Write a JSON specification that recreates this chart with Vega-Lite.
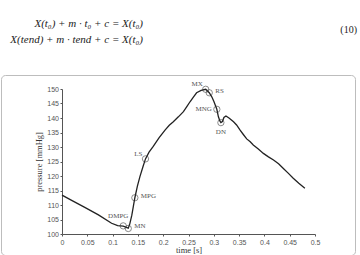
{
  "$schema": "https://vega.github.io/schema/vega-lite/v6.json",
  "autosize": {"type": "none"},
  "padding": {"left": 1, "top": 75, "right": 5, "bottom": 0},
  "width": 354,
  "height": 180,
  "config": {
    "view": {"stroke": "#bdbdbd", "strokeWidth": 1, "cornerRadius": 4},
    "axis": {
      "grid": false,
      "labelFont": "Liberation Sans",
      "labelFontSize": 7,
      "labelColor": "#555",
      "domainColor": "#555",
      "tickColor": "#555",
      "titleFont": "Liberation Serif",
      "titleFontSize": 8.5,
      "titleFontWeight": "normal",
      "titleColor": "#333"
    }
  },
  "datasets": {
    "curve": [
      {"t": 0.000, "p": 113.4}, {"t": 0.020, "p": 111.5}, {"t": 0.045, "p": 109.2},
      {"t": 0.072, "p": 106.6}, {"t": 0.098, "p": 103.7}, {"t": 0.110, "p": 102.9},
      {"t": 0.121, "p": 102.7}, {"t": 0.127, "p": 102.3}, {"t": 0.131, "p": 102.0},
      {"t": 0.134, "p": 103.5}, {"t": 0.138, "p": 106.5}, {"t": 0.141, "p": 109.5},
      {"t": 0.144, "p": 112.5}, {"t": 0.149, "p": 116.5}, {"t": 0.154, "p": 119.8},
      {"t": 0.160, "p": 123.2}, {"t": 0.165, "p": 125.9}, {"t": 0.172, "p": 128.2},
      {"t": 0.180, "p": 130.1}, {"t": 0.192, "p": 133.2}, {"t": 0.204, "p": 135.9},
      {"t": 0.212, "p": 137.5}, {"t": 0.220, "p": 138.7}, {"t": 0.230, "p": 140.4},
      {"t": 0.240, "p": 142.2}, {"t": 0.247, "p": 144.0}, {"t": 0.253, "p": 145.6},
      {"t": 0.260, "p": 147.3}, {"t": 0.266, "p": 148.7}, {"t": 0.275, "p": 149.5},
      {"t": 0.284, "p": 149.9}, {"t": 0.291, "p": 148.7}, {"t": 0.296, "p": 147.3},
      {"t": 0.300, "p": 145.8}, {"t": 0.306, "p": 143.0}, {"t": 0.309, "p": 140.5},
      {"t": 0.312, "p": 139.0}, {"t": 0.314, "p": 138.4}, {"t": 0.317, "p": 138.8},
      {"t": 0.320, "p": 140.2}, {"t": 0.324, "p": 140.7}, {"t": 0.330, "p": 140.0},
      {"t": 0.339, "p": 138.7}, {"t": 0.345, "p": 137.6}, {"t": 0.352, "p": 135.8},
      {"t": 0.358, "p": 134.4}, {"t": 0.365, "p": 132.8}, {"t": 0.372, "p": 131.8},
      {"t": 0.378, "p": 130.7}, {"t": 0.388, "p": 129.3}, {"t": 0.398, "p": 127.8},
      {"t": 0.408, "p": 126.6}, {"t": 0.418, "p": 125.5}, {"t": 0.428, "p": 124.2},
      {"t": 0.437, "p": 122.7}, {"t": 0.447, "p": 121.0}, {"t": 0.457, "p": 119.2},
      {"t": 0.468, "p": 117.5}, {"t": 0.480, "p": 115.8}
    ],
    "points": [
      {"label": "DMPG", "t": 0.121, "p": 102.8},
      {"label": "MN", "t": 0.131, "p": 101.9},
      {"label": "MPG", "t": 0.144, "p": 112.5},
      {"label": "LS", "t": 0.165, "p": 125.9},
      {"label": "MX", "t": 0.284, "p": 149.9},
      {"label": "RS", "t": 0.291, "p": 148.7},
      {"label": "MNG", "t": 0.306, "p": 143.0},
      {"label": "DN", "t": 0.314, "p": 138.4}
    ],
    "equations": [
      {"line": 1, "label": "X(t₀) + m · t₀ + c = X(t₀)"},
      {"line": 2, "label": "X(tend) + m · tend + c = X(t₀)"},
      {"line": 0, "label": "(10)"}
    ]
  },
  "layer": [
    {
      "encoding": {
        "x": {
          "field": "t", "type": "quantitative",
          "scale": {"domain": [0, 0.5], "range": [61, 314], "nice": false, "zero": false},
          "axis": {"title": "time [s]", "offset": -21, "values": [0, 0.05, 0.1, 0.15, 0.2, 0.25, 0.3, 0.35, 0.4, 0.45, 0.5], "format": ".2~f", "labelOverlap": false, "labelFlush": false, "labelBound": false, "tickSize": 2, "labelPadding": 2, "titlePadding": 0}
        },
        "y": {
          "field": "p", "type": "quantitative",
          "scale": {"domain": [100, 150], "range": [159, 14], "nice": false, "zero": false},
          "axis": {"title": "pressure [mmHg]", "offset": -61, "values": [100, 105, 110, 115, 120, 125, 130, 135, 140, 145, 150], "format": "d", "labelOverlap": false, "labelFlush": false, "labelBound": false, "tickSize": 2, "labelPadding": 1.5, "titlePadding": 3}
        }
      },
      "layer": [
        {
          "data": {"name": "curve"},
          "mark": {"type": "line", "color": "#222", "strokeWidth": 1.3}
        },
        {
          "data": {"name": "points"},
          "mark": {"type": "point", "shape": "circle", "filled": false, "size": 40, "stroke": "#333", "strokeWidth": 0.8}
        },
        {
          "data": {"name": "points"},
          "transform": [{"filter": {"field": "label", "oneOf": ["MX", "LS"]}}],
          "mark": {"type": "text", "align": "right", "baseline": "middle", "dx": -3, "dy": -5, "font": "Liberation Serif", "fontSize": 7, "color": "#555"},
          "encoding": {"text": {"field": "label"}}
        },
        {
          "data": {"name": "points"},
          "transform": [{"filter": {"field": "label", "oneOf": ["DMPG"]}}],
          "mark": {"type": "text", "align": "center", "baseline": "middle", "dx": -5, "dy": -10, "font": "Liberation Serif", "fontSize": 7, "color": "#555"},
          "encoding": {"text": {"field": "label"}}
        },
        {
          "data": {"name": "points"},
          "transform": [{"filter": {"field": "label", "oneOf": ["RS", "MPG", "MN"]}}],
          "mark": {"type": "text", "align": "left", "baseline": "middle", "dx": 6, "dy": -2, "font": "Liberation Serif", "fontSize": 7, "color": "#555"},
          "encoding": {"text": {"field": "label"}}
        },
        {
          "data": {"name": "points"},
          "transform": [{"filter": {"field": "label", "oneOf": ["MNG"]}}],
          "mark": {"type": "text", "align": "right", "baseline": "middle", "dx": -5, "dy": 0, "font": "Liberation Serif", "fontSize": 7, "color": "#555"},
          "encoding": {"text": {"field": "label"}}
        },
        {
          "data": {"name": "points"},
          "transform": [{"filter": {"field": "label", "oneOf": ["DN"]}}],
          "mark": {"type": "text", "align": "center", "baseline": "middle", "dy": 9, "font": "Liberation Serif", "fontSize": 7, "color": "#555"},
          "encoding": {"text": {"field": "label"}}
        }
      ]
    },
    {
      "data": {"name": "equations"},
      "transform": [{"filter": "datum.line == 1"}],
      "mark": {"type": "text", "align": "right", "baseline": "middle", "font": "Liberation Serif", "fontStyle": "italic", "fontSize": 11, "color": "#222"},
      "encoding": {
        "x": {"datum": 0.1601, "type": "quantitative",
          "axis": {"title": "time [s]", "offset": -21, "values": [0, 0.05, 0.1, 0.15, 0.2, 0.25, 0.3, 0.35, 0.4, 0.45, 0.5], "format": ".2~f", "labelOverlap": false, "labelFlush": false, "labelBound": false, "tickSize": 2, "labelPadding": 2, "titlePadding": 0}},
        "y": {"datum": 172.4, "type": "quantitative",
          "axis": {"title": "pressure [mmHg]", "offset": -61, "values": [100, 105, 110, 115, 120, 125, 130, 135, 140, 145, 150], "format": "d", "labelOverlap": false, "labelFlush": false, "labelBound": false, "tickSize": 2, "labelPadding": 1.5, "titlePadding": 3}},
        "text": {"field": "label"}
      }
    },
    {
      "data": {"name": "equations"},
      "transform": [{"filter": "datum.line == 2"}],
      "mark": {"type": "text", "align": "right", "baseline": "middle", "font": "Liberation Serif", "fontStyle": "italic", "fontSize": 11, "color": "#222"},
      "encoding": {
        "x": {"datum": 0.1601, "type": "quantitative",
          "axis": {"title": "time [s]", "offset": -21, "values": [0, 0.05, 0.1, 0.15, 0.2, 0.25, 0.3, 0.35, 0.4, 0.45, 0.5], "format": ".2~f", "labelOverlap": false, "labelFlush": false, "labelBound": false, "tickSize": 2, "labelPadding": 2, "titlePadding": 0}},
        "y": {"datum": 166.9, "type": "quantitative",
          "axis": {"title": "pressure [mmHg]", "offset": -61, "values": [100, 105, 110, 115, 120, 125, 130, 135, 140, 145, 150], "format": "d", "labelOverlap": false, "labelFlush": false, "labelBound": false, "tickSize": 2, "labelPadding": 1.5, "titlePadding": 3}},
        "text": {"field": "label"}
      }
    },
    {
      "data": {"name": "equations"},
      "transform": [{"filter": "datum.line == 0"}],
      "mark": {"type": "text", "align": "right", "baseline": "middle", "font": "Liberation Serif", "fontSize": 10, "color": "#222"},
      "encoding": {
        "x": {"datum": 0.583, "type": "quantitative",
          "axis": {"title": "time [s]", "offset": -21, "values": [0, 0.05, 0.1, 0.15, 0.2, 0.25, 0.3, 0.35, 0.4, 0.45, 0.5], "format": ".2~f", "labelOverlap": false, "labelFlush": false, "labelBound": false, "tickSize": 2, "labelPadding": 2, "titlePadding": 0}},
        "y": {"datum": 170.3, "type": "quantitative",
          "axis": {"title": "pressure [mmHg]", "offset": -61, "values": [100, 105, 110, 115, 120, 125, 130, 135, 140, 145, 150], "format": "d", "labelOverlap": false, "labelFlush": false, "labelBound": false, "tickSize": 2, "labelPadding": 1.5, "titlePadding": 3}},
        "text": {"field": "label"}
      }
    }
  ]
}
